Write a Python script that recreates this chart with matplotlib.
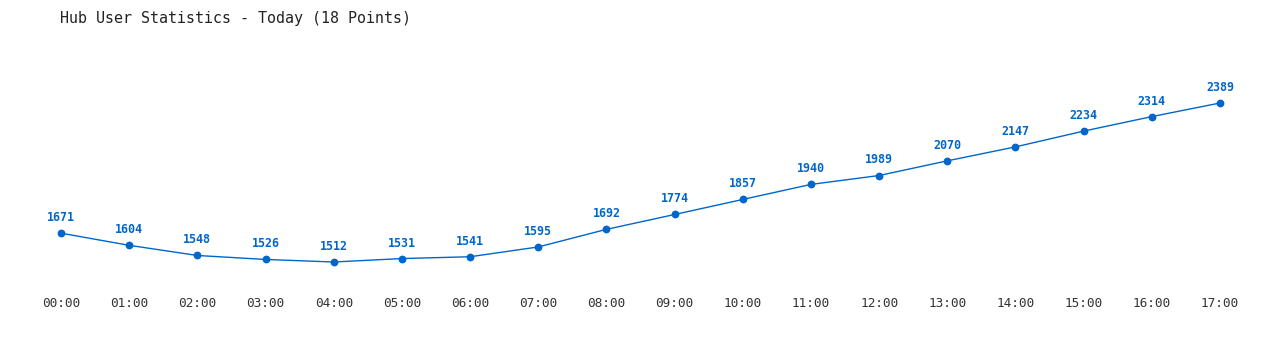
import matplotlib
matplotlib.use('Agg')
import matplotlib.pyplot as plt

hours = ['00:00', '01:00', '02:00', '03:00', '04:00', '05:00', '06:00', '07:00', '08:00',
         '09:00', '10:00', '11:00', '12:00', '13:00', '14:00', '15:00', '16:00', '17:00']
users = [1671, 1604, 1548, 1526, 1512, 1531, 1541, 1595, 1692,
         1774, 1857, 1940, 1989, 2070, 2147, 2234, 2314, 2389]

blue = '#0066cc'
mono = 'DejaVu Sans Mono'

fig = plt.figure(figsize=(12.8, 3.5), dpi=100)
# axes placed so that first/last points and min/max line up with the reference
ax = fig.add_axes([61 / 1280, 88 / 350, (1220 - 61) / 1280, (247 - 88) / 350])
x = list(range(len(hours)))
ax.plot(x, users, color=blue, linewidth=1, marker='o', markersize=4.6, clip_on=False)
for xi, v in zip(x, users):
    ax.annotate(str(v), (xi, v), xytext=(0, 6.5), textcoords='offset points',
                ha='center', va='bottom', fontsize=8.4, fontweight='bold',
                color=blue, family=mono)

ax.set_xlim(0, 17)
ax.set_ylim(min(users), max(users))
ax.set_xticks(x)
ax.set_xticklabels(hours, family=mono, fontsize=9.2, color='#333333')
ax.tick_params(axis='x', length=0, pad=25)
ax.set_yticks([])
for s in ax.spines.values():
    s.set_visible(False)

fig.text(60 / 1280, 1 - 18 / 350, 'Hub User Statistics - Today (18 Points)',
         family=mono, fontsize=10.8, color='#222222', va='center', ha='left')

fig.savefig('out.png', dpi=100)
